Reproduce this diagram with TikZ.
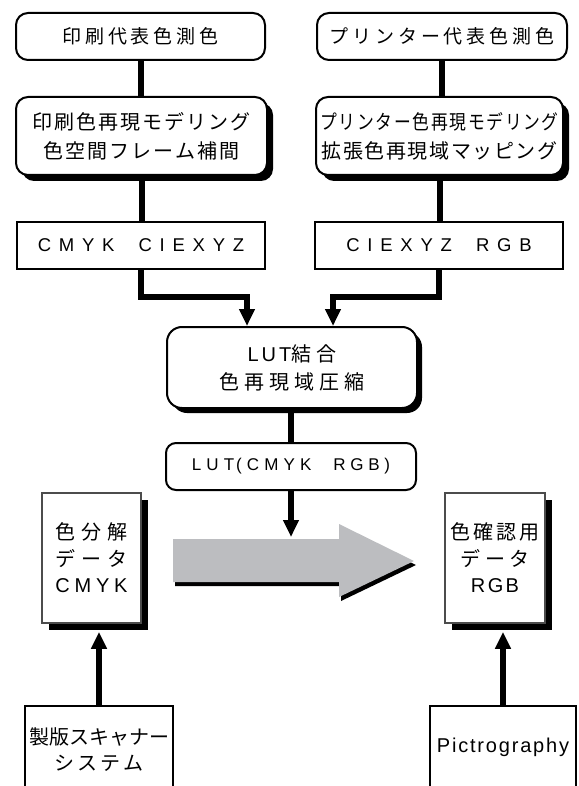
\documentclass[tikz,border=0pt]{standalone}
\usepackage{fontspec}
\usepackage{graphicx}
\setmainfont{Liberation Sans}
\newfontfamily\jp{Noto Sans CJK JP}
\usetikzlibrary{arrows.meta,shadows}
\definecolor{arrowgray}{RGB}{188,189,192}
\newcommand{\J}[2]{{\jp\addfontfeatures{LetterSpace=#1}#2}}
\newcommand{\Lt}[2]{{\addfontfeatures{LetterSpace=#1}#2}}
\begin{document}
\begin{tikzpicture}[x=1pt,y=-1pt,
 rbox/.style={draw, line width=2pt, rounded corners=12pt, fill=white, inner sep=0pt, align=center},
 sbox/.style={draw, line width=2pt, fill=white, inner sep=0pt, align=center},
 shad/.style={drop shadow={shadow xshift=#1, shadow yshift=-#1, opacity=1, fill=black}},
 docbox/.style={draw=black!70, line width=1.6pt, fill=white, inner sep=0pt, align=center},
 conn/.style={line width=6pt},
 arr/.style={conn, -{Triangle[length=17pt,width=15pt]}},
]
\useasboundingbox (0,0) rectangle (578,786);

% top row
\node[rbox, minimum width=249pt, minimum height=47pt, font=\fontsize{19}{22}\selectfont] (p1) at (140.5,36.5) {\J{20}{印刷代表色測色}};
\node[rbox, minimum width=250pt, minimum height=47pt, font=\fontsize{19}{22}\selectfont] (q1) at (442,36.5) {\J{20}{プリンター代表色測色}};

\node[rbox, shad=6pt, minimum width=251pt, minimum height=78pt, font=\fontsize{20}{29}\selectfont] (p2) at (141.5,136) {\J{10}{印刷色再現モデリング}\\\J{10}{色空間フレーム補間}};
\node[rbox, shad=6pt, minimum width=247pt, minimum height=78pt, font=\fontsize{20}{29}\selectfont] (q2) at (439.5,136) {\scalebox{0.84}[1]{\J{10}{プリンター色再現モデリング}}\\\J{8}{拡張色再現域マッピング}};

\node[sbox, minimum width=248pt, minimum height=47pt, font=\fontsize{18.5}{22}\selectfont] (p3) at (141,245.5) {\Lt{42}{CMYK}\hspace{24pt}\Lt{42}{CIEXYZ}};
\node[sbox, minimum width=248pt, minimum height=47pt, font=\fontsize{18.5}{22}\selectfont] (q3) at (439,245.5) {\Lt{42}{CIEXYZ}\hspace{24pt}\Lt{42}{RGB}};

\node[rbox, rounded corners=15pt, shad=5pt, minimum width=250pt, minimum height=81pt, font=\fontsize{20}{28}\selectfont] (lc) at (292,367.5) {\Lt{15}{LUT}\J{25}{結合}\\\J{25}{色再現域圧縮}};

\node[rbox, rounded corners=10pt, minimum width=250pt, minimum height=47pt, font=\fontsize{17}{20}\selectfont] (lut) at (291,466.5) {\Lt{30}{LUT}\hspace{2pt}\Lt{30}{(CMYK}\hspace{22pt}\Lt{28}{RGB)}};

% documents (with solid shadows)
\fill[black] (48.5,499.5) rectangle (147.5,629.5);
\fill[black] (452,499.5) rectangle (552,629.5);
\node[docbox, minimum width=99pt, minimum height=130pt, font=\fontsize{20}{26.5}\selectfont] (dL) at (91.5,558) {\J{30}{色分解}\\\J{28}{データ}\\\Lt{24}{CMYK}};
\node[docbox, minimum width=100pt, minimum height=130pt, font=\fontsize{20}{26.5}\selectfont] (dR) at (495,558) {\J{15}{色確認用}\\\J{22}{データ}\\\Lt{12}{RGB}};

% sources
\node[sbox, minimum width=148pt, minimum height=88pt, font=\fontsize{20}{26}\selectfont] (sL) at (99,750) {\J{0}{製版スキャナー}\\\J{15}{システム}};
\node[sbox, minimum width=146pt, minimum height=82pt, font=\fontsize{20}{24}\selectfont] (sR) at (503,747) {\Lt{9}{Pictrography}};

% big gray arrow
\fill[black] (175,543) -- (341,543) -- (341,528) -- (416,565) -- (341,601) -- (341,586) -- (175,586) -- cycle;
\fill[arrowgray] (173,539) -- (339,539) -- (339,524) -- (414,561) -- (339,597) -- (339,582) -- (173,582) -- cycle;

% connectors
\draw[conn] (p1.south) -- (p1.south |- p2.north);
\draw[conn] (q1.south) -- (q1.south |- q2.north);
\draw[conn] (p2.south) -- (p2.south |- p3.north);
\draw[conn] (q2.south) -- (q2.south |- q3.north);

\coordinate (jL) at (247,297);
\coordinate (jR) at (333,297);
\draw[arr] (p3.south) |- (jL) -- (jL |- lc.north);
\draw[arr] (q3.south) |- (jR) -- (jR |- lc.north);

\draw[conn] (lut.north |- lc.south) -- (lut.north);
\coordinate (gt) at (290,537);
\draw[arr] (lut.south) -- (lut.south |- gt);

\coordinate (dLb) at ([yshift=-8pt]dL.south);
\coordinate (dRb) at ([yshift=-8pt]dR.south);
\draw[arr] (sL.north) -- (sL.north |- dLb);
\draw[arr] (sR.north) -- (sR.north |- dRb);
\end{tikzpicture}
\end{document}
